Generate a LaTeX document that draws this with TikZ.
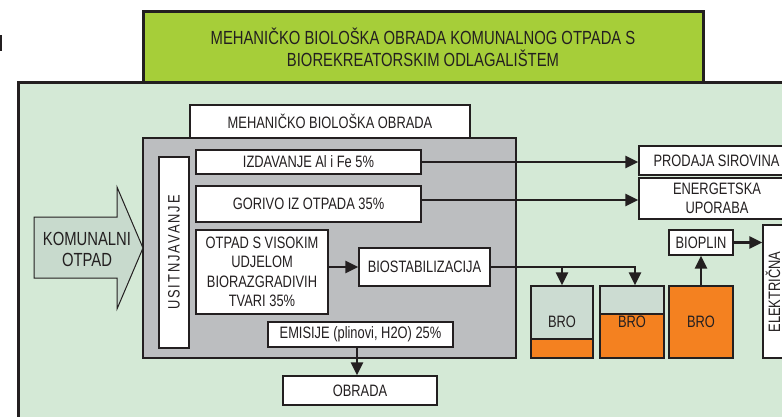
\documentclass[tikz,border=0pt]{standalone}
\usepackage{fontspec}
\setmainfont[FakeStretch=0.78]{Liberation Sans}
\usetikzlibrary{arrows.meta,calc}
\definecolor{ink}{HTML}{231F20}
\definecolor{ttl}{HTML}{A6CE39}
\definecolor{bg}{HTML}{D4E9D6}
\definecolor{grayc}{HTML}{BCBEC0}
\definecolor{orng}{HTML}{F48120}
\definecolor{brolight}{HTML}{CCDCD2}
\definecolor{arrfill}{HTML}{C8DACD}
\tikzset{
  box/.style={draw=ink, fill=white, line width=1.4pt, inner sep=0pt, text=ink, align=center,
    font=\fontsize{16.5}{19.5}\selectfont},
  arr/.style={draw=ink, line width=2.8pt, -{Triangle[length=13pt,width=12pt]}},
  bro/.style={box, fill=brolight, minimum width=#1, minimum height=72},
  brotxt/.style={text=ink, inner sep=0pt, font=\fontsize{16.5}{19}\selectfont},
}
\begin{document}
\begin{tikzpicture}[x=1pt,y=-1pt]
\useasboundingbox (0,0) rectangle (782,417);
\clip (0,0) rectangle (782,417);
\fill[white] (0,0) rectangle (782,417);
\fill[ink] (0,35) rectangle (2,51);
% main region and title
\node[draw=ink, fill=bg, line width=3pt, minimum width=790, minimum height=360, inner sep=0pt] (region) at (413,263) {};
\node[box, fill=ttl, line width=3pt, minimum width=560, minimum height=71, font=\fontsize{19}{22}\selectfont] (title) at (423,47.5)
  {MEHANIČKO BIOLOŠKA OBRADA KOMUNALNOG OTPADA S\\BIOREKREATORSKIM ODLAGALIŠTEM};
% mechanical-biological block
\node[box, minimum width=280, minimum height=33] (mbo) at (330,121.5) {MEHANIČKO BIOLOŠKA OBRADA};
\node[box, fill=grayc, minimum width=373, minimum height=220] (gray) at (329.5,248) {};
\node[box, rotate=90, minimum width=191, minimum height=30] (usit) at (174,252.5) {\addfontfeature{LetterSpace=12}USITNJAVANJE};
\node[box, minimum width=225, minimum height=24] (izd) at (308.5,162) {IZDAVANJE Al i Fe 5\%};
\node[box, minimum width=225, minimum height=36] (gor) at (308.5,204) {GORIVO IZ OTPADA 35\%};
\node[box, minimum width=132, minimum height=84] (otp) at (262,272) {OTPAD S VISOKIM\\UDJELOM\\BIORAZGRADIVIH\\TVARI 35\%};
\node[box, minimum width=131, minimum height=38] (bio) at (424.5,267) {BIOSTABILIZACIJA};
\node[box, minimum width=185, minimum height=25] (emi) at (360.5,334.5) {EMISIJE (plinovi, H2O) 25\%};
\node[box, minimum width=154, minimum height=29] (obr) at (360,390.5) {OBRADA};
% input arrow
\filldraw[fill=arrfill, draw=ink, line width=1pt] (34,217) -- (117,217) -- (117,187) -- (143,248) -- (117,309) -- (117,278) -- (34,278) -- cycle;
\node[text=ink, align=center, font=\fontsize{19}{21}\selectfont] (kom) at (87,249) {KOMUNALNI\\OTPAD};
% outputs
\node[box, minimum width=155, minimum height=29] (prod) at (716.5,160.5) {PRODAJA SIROVINA};
\node[box, minimum width=156, minimum height=41] (ener) at (717,198.5) {ENERGETSKA\\UPORABA};
% BRO cells
\node[bro=62, path picture={\fill[orng] (path picture bounding box.south west) rectangle ([yshift=19pt]path picture bounding box.south east);}] (bro1) at (562,322) {};
\node[bro=64, path picture={\fill[orng] (path picture bounding box.south west) rectangle ([yshift=44pt]path picture bounding box.south east);}] (bro2) at (632,322) {};
\node[bro=64, fill=orng] (bro3) at (701,322) {};
\draw[ink, line width=1.4pt] (bro1.west |- 339,339) -- (bro1.east |- 339,339);
\draw[ink, line width=1.4pt] (bro2.west |- 314,314) -- (bro2.east |- 314,314);
\node[brotxt] at (bro1) {BRO};
\node[brotxt] at (bro2) {BRO};
\node[brotxt] at (bro3) {BRO};
\node[box, minimum width=64, minimum height=25] (bioplin) at (701,242.5) {BIOPLIN};
\node[box, minimum width=40, minimum height=133] (elek) at (783,291.5) {};
\node[brotxt, rotate=90] (elektxt) at (773,292) {ELEKTRIČNA};
% connectors
\draw[arr] (izd.east) -- (izd.east -| prod.west);
\draw[arr] ([yshift=4pt]gor.east) -- ([yshift=4pt]gor.east -| ener.west);
\draw[arr] (otp.east |- bio.west) -- (bio.west);
\coordinate (j2) at (635,267);
\draw[arr] (bio.east) -- (j2) -- (j2 |- bro2.north);
\draw[arr] (bio.east -| bro1.north) -- (bro1.north);
\draw[arr] (bro3.north) -- (bioplin.south);
\draw[arr] (bioplin.east) -- (bioplin.east -| elek.west);
\draw[arr] ([xshift=-3.5pt]emi.south) -- ([xshift=-3.5pt]emi.south |- obr.north);
\end{tikzpicture}
\end{document}
